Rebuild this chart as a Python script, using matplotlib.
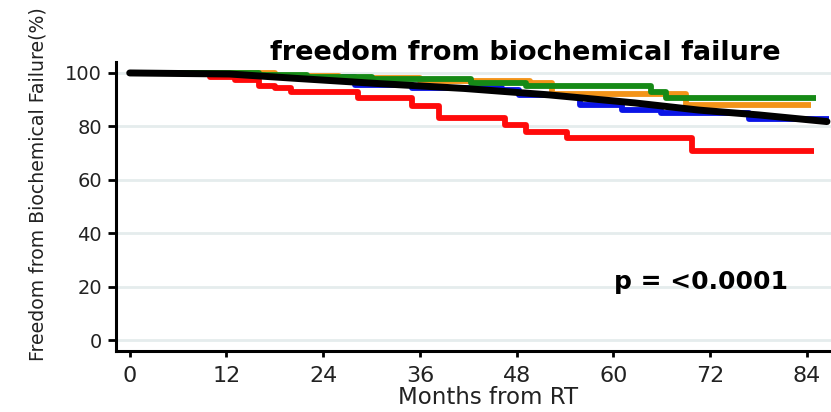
import matplotlib
matplotlib.use("Agg")
import matplotlib.pyplot as plt

# Kaplan-Meier style curves, months from RT vs % free from failure
red_t = [0, 10, 13, 16, 18, 20, 28.3, 35, 38.4, 46.5, 49.2, 54.3, 69.8, 84.9]
red_s = [100, 98.3, 97.3, 95.3, 94.2, 92.9, 90.6, 87.6, 83.1, 80.5, 77.9, 75.7, 70.8, 70.8]

blue_t = [0, 8, 18, 28, 35, 46.2, 48.3, 55.8, 61.1, 65.9, 76.8, 86.7]
blue_s = [100, 99.5, 98.3, 95.5, 94.5, 93.6, 91.8, 88.0, 86.1, 85.0, 82.8, 82.8]

orange_t = [0, 18, 26, 36, 49.6, 52.4, 69.0, 84.5]
orange_s = [100, 99.0, 98.0, 97.0, 96.3, 92.3, 88.0, 88.0]

green_t = [0, 16, 22, 30, 42.4, 49.2, 64.7, 66.5, 85.1]
green_s = [100, 99.2, 98.3, 97.8, 96.4, 95.3, 92.8, 90.5, 90.5]

# overall cohort
black_t = [0, 12.4, 21, 31, 41.5, 52, 62.6, 70.6, 78, 86.5]
black_s = [100, 99.6, 97.9, 96.0, 94.2, 91.8, 88.8, 86.1, 84.3, 81.8]

xticks = [0, 12, 24, 36, 48, 60, 72, 84]
yticks = [0, 20, 40, 60, 80, 100]

fig = plt.figure(figsize=(8.31, 4.12), dpi=100)
ax = fig.add_axes([0.1396, 0.148, 0.8604, 0.7015])

for y in yticks:
    ax.axhline(y, color="#e5eced", lw=2, zorder=0)

ax.step(red_t, red_s, where="post", color="#ff0a0a", lw=4.2, solid_capstyle="butt")
ax.step(blue_t, blue_s, where="post", color="#0a14e6", lw=4.2, solid_capstyle="butt")
ax.step(orange_t, orange_s, where="post", color="#f39419", lw=4.2, solid_capstyle="butt")
ax.step(green_t, green_s, where="post", color="#168a16", lw=4.2, solid_capstyle="butt")
ax.plot(black_t, black_s, color="black", lw=5, solid_capstyle="round")

ax.set_xlim(-1.7, 87)
ax.set_ylim(-4.1, 104.1)
ax.set_xticks(xticks)
ax.set_yticks(yticks)

for s in ["top", "right"]:
    ax.spines[s].set_visible(False)
for s in ["left", "bottom"]:
    ax.spines[s].set_linewidth(2.2)
    ax.spines[s].set_color("black")

ax.tick_params(axis="x", length=4.5, width=2, pad=6, labelsize=16, labelcolor="#222222")
ax.tick_params(axis="y", length=6, width=2, pad=4, labelsize=14, labelcolor="#222222")

ax.text(60.1, 19.1, "p = <0.0001", fontsize=18, fontweight="bold", va="baseline", ha="left")

fig.text(525 / 831, 1 - 60 / 412, "freedom from biochemical failure",
         fontsize=19.5, fontweight="bold", ha="center", va="baseline")
fig.text(488 / 831, 1 - 397 / 412, "Months from RT", fontsize=16.5,
         ha="center", va="center", color="#222222")
fig.text(38 / 831, 1 - 184 / 412, "Freedom from Biochemical Failure(%)",
         fontsize=13.6, rotation=90, ha="center", va="center", color="#222222")

fig.savefig("out.png", dpi=100)
